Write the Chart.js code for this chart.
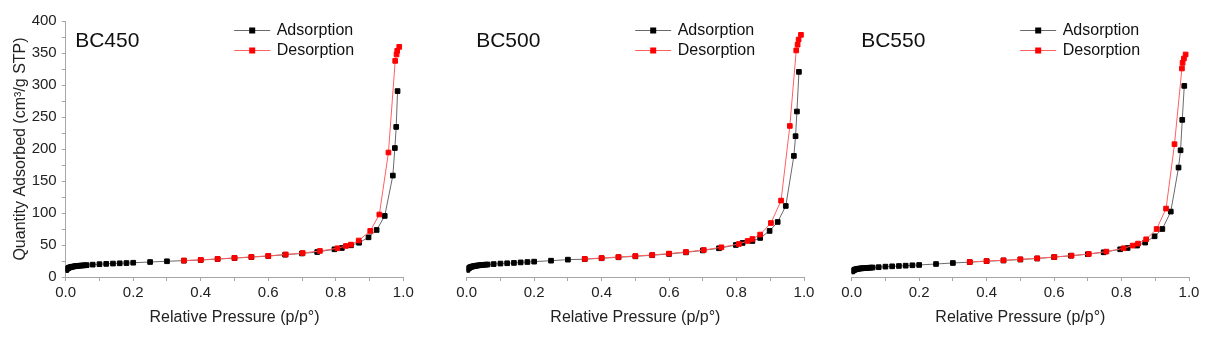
<!DOCTYPE html>
<html><head><meta charset="utf-8">
<script src="https://cdn.jsdelivr.net/npm/chart.js@4.4.1/dist/chart.umd.min.js"></script>
<style>
html,body{margin:0;padding:0;background:#fff;width:1214px;height:339px;overflow:hidden}
canvas{position:absolute;left:0;top:0}
</style></head>
<body>
<canvas id="c1" width="1214" height="339"></canvas>
<canvas id="c2" width="1214" height="339"></canvas>
<canvas id="c3" width="1214" height="339"></canvas>
<script>
// ---------- data ----------
const sampleNames = ['BC450', 'BC500', 'BC550'];
const seriesNames = ['Adsorption', 'Desorption'];
const xTickLabels = ['0.0', '0.2', '0.4', '0.6', '0.8', '1.0'];
const yTickLabels = [0, 50, 100, 150, 200, 250, 300, 350, 400];

const bc450AdsP = [0.0015,0.003,0.005,0.007,0.009,0.012,0.015,0.018,0.021,0.025,0.029,0.033,0.037,0.042,0.047,0.052,0.057,0.062,0.08,0.10,0.12,0.14,0.16,0.18,0.20,0.25,0.30,0.35,0.40,0.45,0.50,0.55,0.60,0.65,0.70,0.745,0.796,0.818,0.845,0.869,0.897,0.921,0.945,0.969,0.975,0.979,0.983];
const bc450AdsQ = [10.8,12.0,13.0,13.8,14.4,15.0,15.5,15.9,16.2,16.6,16.9,17.2,17.4,17.7,17.9,18.1,18.3,18.5,19.3,20.0,20.5,21.0,21.4,21.8,22.3,23.4,24.6,25.5,26.5,28.0,29.5,31.0,32.7,34.8,36.8,39.0,43.3,45.3,49.5,53.5,62.0,73.5,95.4,158.5,201.5,234.5,290.5];
const bc450DesP = [0.988,0.982,0.980,0.976,0.956,0.929,0.902,0.868,0.845,0.830,0.805,0.753,0.702,0.652,0.60,0.55,0.50,0.45,0.40,0.35];
const bc450DesQ = [359.6,353.4,347.7,337.7,194.5,97.6,72.0,57.0,50.6,48.5,44.9,40.7,37.5,35.2,33.0,31.4,29.8,28.3,26.8,25.7];

const bc500AdsP = [0.0015,0.003,0.005,0.007,0.009,0.012,0.015,0.018,0.021,0.025,0.029,0.033,0.037,0.042,0.047,0.052,0.057,0.062,0.08,0.10,0.12,0.14,0.16,0.18,0.20,0.25,0.30,0.35,0.40,0.45,0.50,0.55,0.60,0.65,0.70,0.748,0.798,0.818,0.847,0.870,0.898,0.922,0.946,0.970,0.975,0.979,0.985];
const bc500AdsQ = [11.0,12.3,13.4,14.2,14.9,15.6,16.1,16.5,16.9,17.3,17.7,18.0,18.3,18.6,18.9,19.1,19.3,19.5,20.2,21.0,21.5,22.0,22.8,23.4,24.0,25.5,27.1,27.8,29.3,30.8,32.3,34.0,36.0,38.5,41.5,44.9,50.0,53.2,56.3,61.0,72.0,86.0,111.0,189.2,220.0,258.6,320.5];
const bc500DesP = [0.991,0.984,0.981,0.977,0.958,0.932,0.902,0.870,0.847,0.833,0.807,0.755,0.703,0.65,0.60,0.55,0.50,0.45,0.40,0.35];
const bc500DesQ = [378.4,371.0,363.0,354.0,236.0,119.4,84.4,66.3,59.4,56.3,51.6,46.4,42.2,39.1,36.6,34.4,32.8,31.3,29.7,28.2];

const bc550AdsP = [0.0015,0.003,0.005,0.007,0.009,0.012,0.015,0.018,0.021,0.025,0.029,0.033,0.037,0.042,0.047,0.052,0.057,0.062,0.08,0.10,0.12,0.14,0.16,0.18,0.20,0.25,0.30,0.35,0.40,0.45,0.50,0.55,0.60,0.65,0.70,0.747,0.796,0.818,0.846,0.870,0.898,0.921,0.946,0.969,0.975,0.980,0.986];
const bc550AdsQ = [8.6,9.6,10.4,11.0,11.5,12.0,12.4,12.7,13.0,13.3,13.5,13.7,13.9,14.1,14.3,14.5,14.6,14.8,15.3,16.2,16.7,17.2,17.7,18.3,18.8,20.3,21.9,23.2,24.7,25.8,27.3,28.9,31.0,33.2,35.6,38.6,43.3,45.3,49.1,53.8,63.6,75.0,102.2,171.0,198.0,245.5,298.6];
const bc550DesP = [0.990,0.985,0.981,0.979,0.957,0.932,0.904,0.873,0.849,0.833,0.806,0.755,0.703,0.652,0.601,0.55,0.50,0.45,0.40,0.35];
const bc550DesQ = [347.7,341.4,334.6,325.8,207.5,106.9,75.0,58.9,52.2,49.1,44.9,39.7,36.0,33.4,31.3,29.2,27.7,26.1,25.0,23.5];

// ---------- styling / layout ----------
const FONT = '"Liberation Sans", Arial, Helvetica, sans-serif';
Chart.defaults.font.family = FONT;
Chart.defaults.color = '#222';
const AXIS = '#a6a6a6';
const panels = [
  {name: sampleNames[0], ads: [bc450AdsP, bc450AdsQ], des: [bc450DesP, bc450DesQ], left: 65.7, right: 403.3, yAxis: true},
  {name: sampleNames[1], ads: [bc500AdsP, bc500AdsQ], des: [bc500DesP, bc500DesQ], left: 466.7, right: 804, yAxis: false},
  {name: sampleNames[2], ads: [bc550AdsP, bc550AdsQ], des: [bc550DesP, bc550DesQ], left: 851.7, right: 1189, yAxis: false}
];
const toPts = (p, q) => p.map((v, i) => ({x: v, y: q[i]}));

const overlay = {
  id: 'overlay',
  afterDraw(chart, args, opts) {
    const ctx = chart.ctx, a = chart.chartArea;
    ctx.save();
    ctx.fillStyle = '#111';
    ctx.textBaseline = 'middle';
    ctx.textAlign = 'left';
    ctx.font = '21px ' + FONT;
    ctx.fillText(opts.label, a.left + 9.5, 41);
    ctx.font = '16px ' + FONT;
    const rows = [30, 50];
    chart.data.datasets.forEach((ds, i) => {
      const y = rows[i];
      ctx.strokeStyle = ds.borderColor;
      ctx.lineWidth = 1;
      ctx.beginPath();
      ctx.moveTo(a.left + 168.5, y + 0.5);
      ctx.lineTo(a.left + 204.5, y + 0.5);
      ctx.stroke();
      ctx.fillStyle = ds.pointBackgroundColor;
      ctx.fillRect(a.left + 183.5, y - 2.5, 6, 6);
      ctx.fillStyle = '#111';
      ctx.fillText(ds.label, a.left + 211, y + 1);
    });
    ctx.restore();
  }
};

panels.forEach((pn, idx) => {
  const ctx = document.getElementById('c' + (idx + 1));
  new Chart(ctx, {
    type: 'line',
    data: {
      datasets: [
        {label: seriesNames[0], data: toPts(pn.ads[0], pn.ads[1]), borderColor: '#6a6a6a', backgroundColor: '#000',
         pointBackgroundColor: '#000', pointBorderColor: '#000', pointStyle: 'rect', pointRadius: 3.3, pointBorderWidth: 1,
         borderWidth: 1, tension: 0, order: 2},
        {label: seriesNames[1], data: toPts(pn.des[0], pn.des[1]), borderColor: '#ff6060', backgroundColor: '#f00',
         pointBackgroundColor: '#ff0000', pointBorderColor: '#ff0000', pointStyle: 'rect', pointRadius: 3.3, pointBorderWidth: 1,
         borderWidth: 1, tension: 0, order: 1}
      ]
    },
    options: {
      responsive: false, animation: false, events: [],
      layout: {padding: {left: pn.yAxis ? 0 : pn.left, right: 1214 - pn.right, top: 21, bottom: 0}},
      plugins: {legend: {display: false}, tooltip: {enabled: false}, overlay: {label: pn.name}},
      scales: {
        x: {
          type: 'linear', min: 0, max: 1,
          afterFit: s => { s.height = 62; },
          grid: {display: true, drawOnChartArea: false, drawTicks: true, tickLength: 4, color: AXIS},
          border: {display: true, color: AXIS, width: 1},
          ticks: {stepSize: 0.1, autoSkip: false, maxRotation: 0, padding: 3, font: {size: 15}, color: '#222',
                  callback: v => { const k = Math.round(v * 10); return k % 2 === 0 ? xTickLabels[k / 2] : ''; }},
          title: {display: true, text: 'Relative Pressure (p/p\u00b0)', font: {size: 16}, color: '#222', padding: {top: 0, bottom: 12}}
        },
        y: {
          type: 'linear', min: 0, max: 400, display: pn.yAxis,
          afterFit: s => { s.width = pn.yAxis ? 65.7 : 0; },
          grid: {display: true, drawOnChartArea: false, drawTicks: true, tickLength: 4, color: AXIS},
          border: {display: true, color: AXIS, width: 1},
          ticks: {stepSize: 25, autoSkip: false, padding: 5, font: {size: 15}, color: '#222',
                  callback: v => { const k = Math.round(v / 50); return (v % 50 === 0) ? String(yTickLabels[k]) : ''; }},
          title: {display: true, text: 'Quantity Adsorbed (cm\u00b3/g STP)', font: {size: 16}, color: '#222', padding: {top: 11, bottom: 0}}
        }
      }
    },
    plugins: [overlay]
  });
});
</script>
</body></html>
